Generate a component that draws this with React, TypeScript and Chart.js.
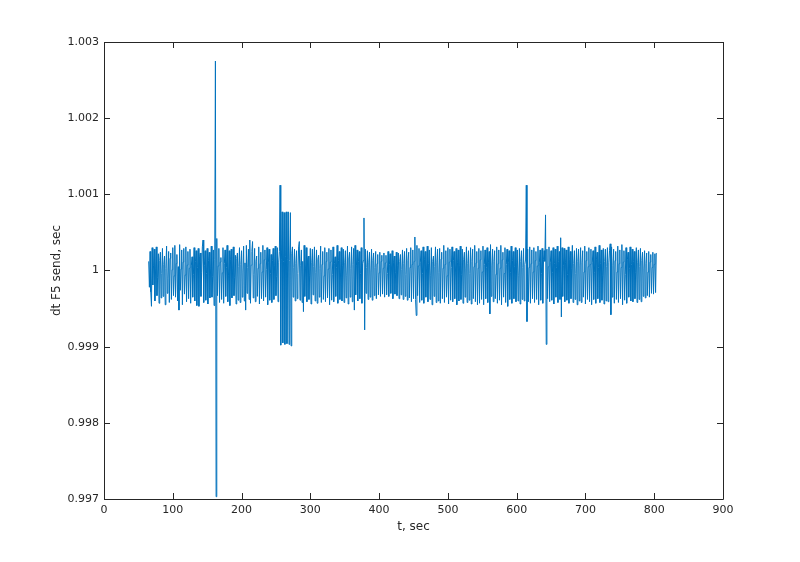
import { useEffect, useRef } from "react";
import { Chart, registerables } from "chart.js";

Chart.register(...registerables);

// send time of the first sample, sec
const startTime = 65;

// deviation of dt from 1 sec, in microseconds (one value per send)
const dtDeviationUs = [
  120, -220, 250, -280, -470, 300, -190, 60, 280, -400, 20, 310, -330, -90, 220, -430, 130, 240, -360, -40,
  290, -340, 80, 190, -450, 30, 320, -300, -100, 250, -420, 160, 230, -380, 10, 300, -330, -70, 330, -350,
  90, 210, -400, 50, -520, 340, -260, 20, 270, -450, 110, 290, -310, -60, 310, -410, 70, 250, -370, 30,
  280, -430, 60, 180, -350, -50, 300, -400, 120, 260, -460, 40, 290, -470, 180, 230, -340, -30, 310, 400,
  -420, 70, 260, -390, -40, 290, -440, 130, 240, -360, 20, 320, -350, -80, 270, -460, 150, 2750, -2970, 420,
  -330, 60, 290, -420, 110, 170, -380, -30, 300, -430, 90, 270, -340, 40, 330, -410, -60, 260, -460, 140,
  280, -360, 20, 310, -330, -90, 200, -440, 160, 230, -390, 50, 300, -420, 80, 260, -350, -20, 320, -400,
  100, -520, 330, -300, 40, 280, -380, 400, -430, 70, 250, 380, -360, -50, 290, -410, 120, 190, -340, 30,
  310, -440, 90, 240, -370, -20, 330, -400, 140, 270, -350, 10, 300, -450, 100, 280, -390, -40, 210, -420,
  130, 290, -380, 60, 320, -330, -80, 300, -410, 110, 250, 1120, -980, 150, 770, -950, 120, 760, -970, 180,
  770, -960, 140, 770, -970, 130, 760, -990, 220, 310, -350, 40, 280, -400, 90, 260, -370, -40, 310, 380,
  -390, 70, 270, -420, 120, -540, 330, -340, 20, 300, -410, 150, 190, -380, -60, 290, -440, 100, 280, -320,
  50, 310, -400, -30, 270, -430, 140, 200, -350, 30, 320, -420, 80, 250, -380, -70, 300, -410, 120, 240,
  -360, 20, 290, -450, 110, 270, -390, -50, 310, -410, 90, 180, -340, 40, 330, -430, 130, 250, -380, -20,
  300, -400, 70, 280, -420, 100, 260, -360, -60, 320, -440, 150, 240, -350, 30, 310, -410, 80, 290, -520,
  330, -320, 60, 270, -400, 120, 250, -370, -40, 300, -430, 90, 130, 690, -780, 280, -300, 40, 260, -380,
  110, 240, -350, -20, 280, -390, 130, 230, -330, 40, 250, -370, 90, 210, -320, -30, 240, -340, 120, 200,
  -310, 30, 230, -350, 100, 200, -320, -40, 250, -340, 80, 220, -300, 20, 260, -370, 110, 190, -310, -30,
  240, -330, 70, 230, -370, 120, 210, -320, 10, 270, -380, 90, 250, -340, -50, 290, -390, 130, 240, -360,
  40, 300, -410, 80, 270, -370, 120, 440, -380, -590, 330, -330, 60, 290, -420, 110, 260, -390, -40, 310,
  -430, 140, 250, -350, 20, 320, -410, 90, 270, -380, -60, 300, -450, 120, 190, -340, 50, 310, -420, 100,
  280, -400, -30, 290, -430, 150, 240, -370, 30, 330, -420, 80, 260, -350, -70, 300, -440, 110, 280, -390,
  40, 310, -410, 130, 250, -370, -20, 290, -450, 100, 270, -400, 60, 320, -380, -50, 280, -430, 140, 240,
  -350, 20, 310, -420, 90, 260, -390, -40, 300, -440, 120, 280, -370, 50, 330, -410, 100, 250, -450, 30,
  290, -430, 140, 260, -380, -20, 320, -450, 80, 270, -370, 40, 300, -420, 110, 250, -570, 340, -340, 60,
  280, -410, 120, 260, -370, -50, 310, -430, 90, 270, -390, 30, 330, -450, 140, 240, -350, -40, 300, -420,
  80, 280, -470, 110, 260, -380, -30, 320, -430, 130, 250, -370, 50, 300, -410, 100, 270, -400, -60, 290,
  -440, 120, 260, -380, 40, 290, -400, 80, 150, 1120, -670, 280, -410, 40, 310, -430, 90, 270, -370, -20,
  300, -420, 130, 250, -380, 60, 320, -450, 100, 270, -390, -40, 290, -430, 140, 260, 120, 730, -970, 280,
  -370, 50, 310, -410, 110, 260, -390, -30, 300, -440, 90, 280, -350, 40, 320, -420, 120, 250, -380, 430,
  -610, 300, -340, 70, 290, -410, 100, 270, -390, -50, 310, -430, 140, 250, -370, 30, 330, -420, 90, 260,
  -380, -40, 290, -450, 120, 280, -400, 60, 300, -420, 100, 260, -350, -20, 320, -440, 130, 250, -380, 50,
  300, -410, 80, 280, -450, 110, 260, -380, -30, 310, -430, 140, 240, -370, 40, 330, -420, 90, 270, -390,
  -60, 290, -440, 120, 280, -400, 50, 300, -410, 100, 260, 350, -580, 310, -350, 70, 280, -430, 130, 250,
  -380, -20, 320, -420, 90, 270, -370, 40, 340, -450, 110, 260, -390, -50, 300, -430, 140, 240, -350, 30,
  310, -400, 80, 280, -410, 120, 250, -370, -30, 300, -420, 100, 270, -380, 50, 290, -410, 130, 240, -340,
  20, 260, -360, 90, 230, -330, -20, 250, -350, 110, 210, -300, 40, 240, -310, 80, 220, -290, 230,
];

const xTicks = [0, 100, 200, 300, 400, 500, 600, 700, 800, 900];
const xTickLabels = ["0", "100", "200", "300", "400", "500", "600", "700", "800", "900"];
const yTicks = [0.997, 0.998, 0.999, 1, 1.001, 1.002, 1.003];
const yTickLabels = ["0.997", "0.998", "0.999", "1", "1.001", "1.002", "1.003"];

const AXIS_COLOR = "#262626";

// box around the plot area with MATLAB-style inward ticks
const boxPlugin = {
  id: "matlabBox",
  afterDraw(chart: Chart) {
    const { ctx, chartArea } = chart;
    const { left, right, top, bottom } = chartArea;
    const xs = chart.scales.x;
    const ys = chart.scales.y;
    const len = 6;
    ctx.save();
    ctx.strokeStyle = AXIS_COLOR;
    ctx.lineWidth = 1;
    ctx.beginPath();
    ctx.rect(Math.round(left) + 0.5, Math.round(top) + 0.5, Math.round(right - left), Math.round(bottom - top));
    xTicks.forEach((v) => {
      const px = Math.round(xs.getPixelForValue(v)) + 0.5;
      ctx.moveTo(px, bottom);
      ctx.lineTo(px, bottom - len);
      ctx.moveTo(px, top);
      ctx.lineTo(px, top + len);
    });
    yTicks.forEach((v) => {
      const py = Math.round(ys.getPixelForValue(v)) + 0.5;
      ctx.moveTo(left, py);
      ctx.lineTo(left + len, py);
      ctx.moveTo(right, py);
      ctx.lineTo(right - len, py);
    });
    ctx.stroke();
    ctx.restore();
  },
};

function DtPlot() {
  const canvasRef = useRef<HTMLCanvasElement>(null);
  const chartInstance = useRef<Chart | null>(null);

  useEffect(() => {
    if (!canvasRef.current) return;
    document.body.style.margin = "0";

    if (chartInstance.current) {
      chartInstance.current.destroy();
    }

    // t is the running sum of the send intervals
    const points: { x: number; y: number }[] = [];
    let t = startTime;
    dtDeviationUs.forEach((d, i) => {
      const dt = 1 + d * 1e-6;
      if (i > 0) t += dt;
      points.push({ x: t, y: dt });
    });

    Chart.defaults.font.family = "'DejaVu Sans', sans-serif";
    Chart.defaults.color = AXIS_COLOR;

    chartInstance.current = new Chart(canvasRef.current, {
      type: "line",
      data: {
        datasets: [
          {
            data: points,
            borderColor: "#0072BD",
            borderWidth: 1,
            pointRadius: 0,
            fill: false,
            tension: 0,
          },
        ],
      },
      options: {
        animation: false,
        responsive: false,
        devicePixelRatio: 1,
        layout: { padding: { left: 0, top: 42, right: 77, bottom: 0 } },
        plugins: {
          legend: { display: false },
          tooltip: { enabled: false },
        },
        scales: {
          x: {
            type: "linear",
            min: 0,
            max: 900,
            afterFit: (s: any) => {
              s.height = 63;
            },
            afterBuildTicks: (s: any) => {
              s.ticks = xTicks.map((v) => ({ value: v }));
            },
            ticks: {
              font: { size: 11 },
              padding: 5,
              maxRotation: 0,
              autoSkip: false,
              callback: (_v: any, i: number) => xTickLabels[i],
            },
            grid: { display: false, drawTicks: false },
            border: { display: false },
            title: {
              display: true,
              text: "t, sec",
              font: { size: 12 },
              padding: { top: 0, bottom: 28 },
            },
          },
          y: {
            type: "linear",
            min: 0.997,
            max: 1.003,
            afterFit: (s: any) => {
              s.width = 104;
            },
            afterBuildTicks: (s: any) => {
              s.ticks = yTicks.map((v) => ({ value: v }));
            },
            ticks: {
              font: { size: 11 },
              padding: 5,
              autoSkip: false,
              callback: (_v: any, i: number) => yTickLabels[i],
            },
            grid: { display: false, drawTicks: false },
            border: { display: false },
            title: {
              display: true,
              text: "dt F5 send, sec",
              font: { size: 12 },
              padding: { top: 50, bottom: 0 },
            },
          },
        },
      },
      plugins: [boxPlugin],
    });

    return () => {
      if (chartInstance.current) {
        chartInstance.current.destroy();
        chartInstance.current = null;
      }
    };
  }, []);

  return <canvas ref={canvasRef} width={800} height={562} />;
}

export default function App() {
  return (
    <div style={{ width: 800, height: 562, background: "#fff" }}>
      <DtPlot />
    </div>
  );
}
